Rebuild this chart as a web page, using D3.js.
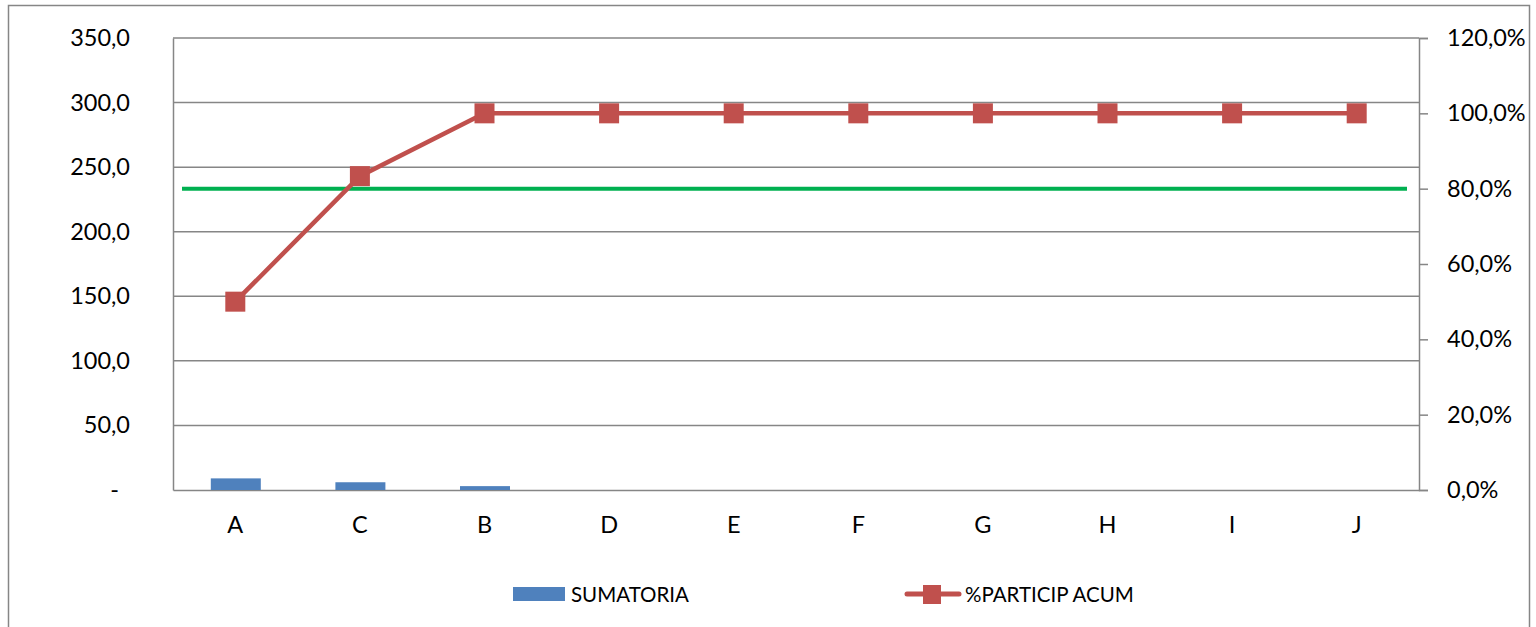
<!DOCTYPE html>
<html><head><meta charset="utf-8">
<script src="https://cdn.jsdelivr.net/npm/d3@7"></script>
<style>body{margin:0;background:#fff;}svg{display:block;font-family:Lato,"Open Sans",sans-serif;}</style>
</head><body>
<svg id="c" width="1536" height="627"></svg>
<script>
const categories = ["A","C","B","D","E","F","G","H","I","J"];
const sumatoria = [9,6,3,0,0,0,0,0,0,0];
const participAcum = [0.5,0.8333,1,1,1,1,1,1,1,1];
const threshold = 0.8;
const leftTicks = [0,50,100,150,200,250,300,350];
const rightTicks = [0,0.2,0.4,0.6,0.8,1.0,1.2];

const svg = d3.select("#c");
const L=173,R=1419,T=38,B=490;
const FS=23.5;
svg.append("rect").attr("x",8.5).attr("y",5.5).attr("width",1521).attr("height",640)
  .attr("fill","#fff").attr("stroke","#868686").attr("stroke-width",1.5);

const x = d3.scaleBand().domain(categories).range([L,R]);
const yL = d3.scaleLinear().domain([0,350]).range([B,T]);
const yR = d3.scaleLinear().domain([0,1.2]).range([B,T]);
const fmt1 = v => v===0 ? "-" : d3.format(".1f")(v).replace(".",",");
const fmtP = v => d3.format(".1f")(v*100).replace(".",",")+"%";

// gridlines
svg.append("g").selectAll("line").data(leftTicks.filter(d=>d>0)).join("line")
  .attr("x1",L).attr("x2",R).attr("y1",d=>yL(d)).attr("y2",d=>yL(d))
  .attr("stroke","#868686").attr("stroke-width",1.5);

// left axis
const gl = svg.append("g").attr("transform",`translate(${L},0)`)
  .call(d3.axisLeft(yL).tickValues(leftTicks).tickFormat(fmt1).tickSize(0).tickPadding(43));
gl.select(".domain").attr("stroke","#868686").attr("stroke-width",1.5);
gl.selectAll("text").attr("font-size",FS).attr("fill","#000").attr("font-family","Lato");
gl.selectAll(".tick").filter(d=>d===0).select("text").attr("dx",-11);

// right axis
const gr = svg.append("g").attr("transform",`translate(${R},0)`)
  .call(d3.axisRight(yR).tickValues(rightTicks).tickFormat(fmtP).tickSize(9).tickPadding(19));
gr.select(".domain").attr("stroke","#868686").attr("stroke-width",1.5);
gr.selectAll("line").attr("stroke","#868686").attr("stroke-width",1.5);
gr.selectAll("text").attr("font-size",FS).attr("fill","#000").attr("font-family","Lato");

// bottom axis
const gb = svg.append("g").attr("transform",`translate(0,${B})`)
  .call(d3.axisBottom(x).tickSize(0).tickPadding(26));
gb.select(".domain").attr("stroke","#868686").attr("stroke-width",1.5);
gb.selectAll("text").attr("font-size",FS).attr("fill","#000").attr("font-family","Lato");

// bars
const bw = 50;
svg.append("g").selectAll("rect").data(sumatoria).join("rect")
  .attr("x",(d,i)=>x(categories[i])+x.bandwidth()/2-bw/2+0.5)
  .attr("width",bw).attr("y",d=>yL(d)).attr("height",d=>B-yL(d)).attr("fill","#4F81BD");

// threshold line
svg.append("line").attr("x1",L+9).attr("x2",R-12).attr("y1",yR(threshold)).attr("y2",yR(threshold))
  .attr("stroke","#00B050").attr("stroke-width",4);

// cumulative line
const cx = (d,i)=>x(categories[i])+x.bandwidth()/2;
svg.append("path").datum(participAcum)
  .attr("d",d3.line().x(cx).y(d=>yR(d)))
  .attr("fill","none").attr("stroke","#C0504D").attr("stroke-width",4.5);
svg.append("g").selectAll("rect").data(participAcum).join("rect")
  .attr("x",(d,i)=>cx(d,i)-10).attr("y",d=>yR(d)-10).attr("width",20).attr("height",20)
  .attr("fill","#C0504D");

// legend
const lg = svg.append("g");
lg.append("rect").attr("x",513).attr("y",587).attr("width",52).attr("height",14).attr("fill","#4F81BD");
lg.append("text").attr("x",571).attr("y",602).attr("font-size",20.5).text("SUMATORIA");
lg.append("line").attr("x1",907).attr("x2",959).attr("y1",594).attr("y2",594)
  .attr("stroke","#C0504D").attr("stroke-width",5).attr("stroke-linecap","round");
lg.append("rect").attr("x",923).attr("y",585).attr("width",18).attr("height",19).attr("fill","#C0504D");
lg.append("text").attr("x",965).attr("y",602).attr("font-size",20.5).text("%PARTICIP ACUM");
</script>
</body></html>
